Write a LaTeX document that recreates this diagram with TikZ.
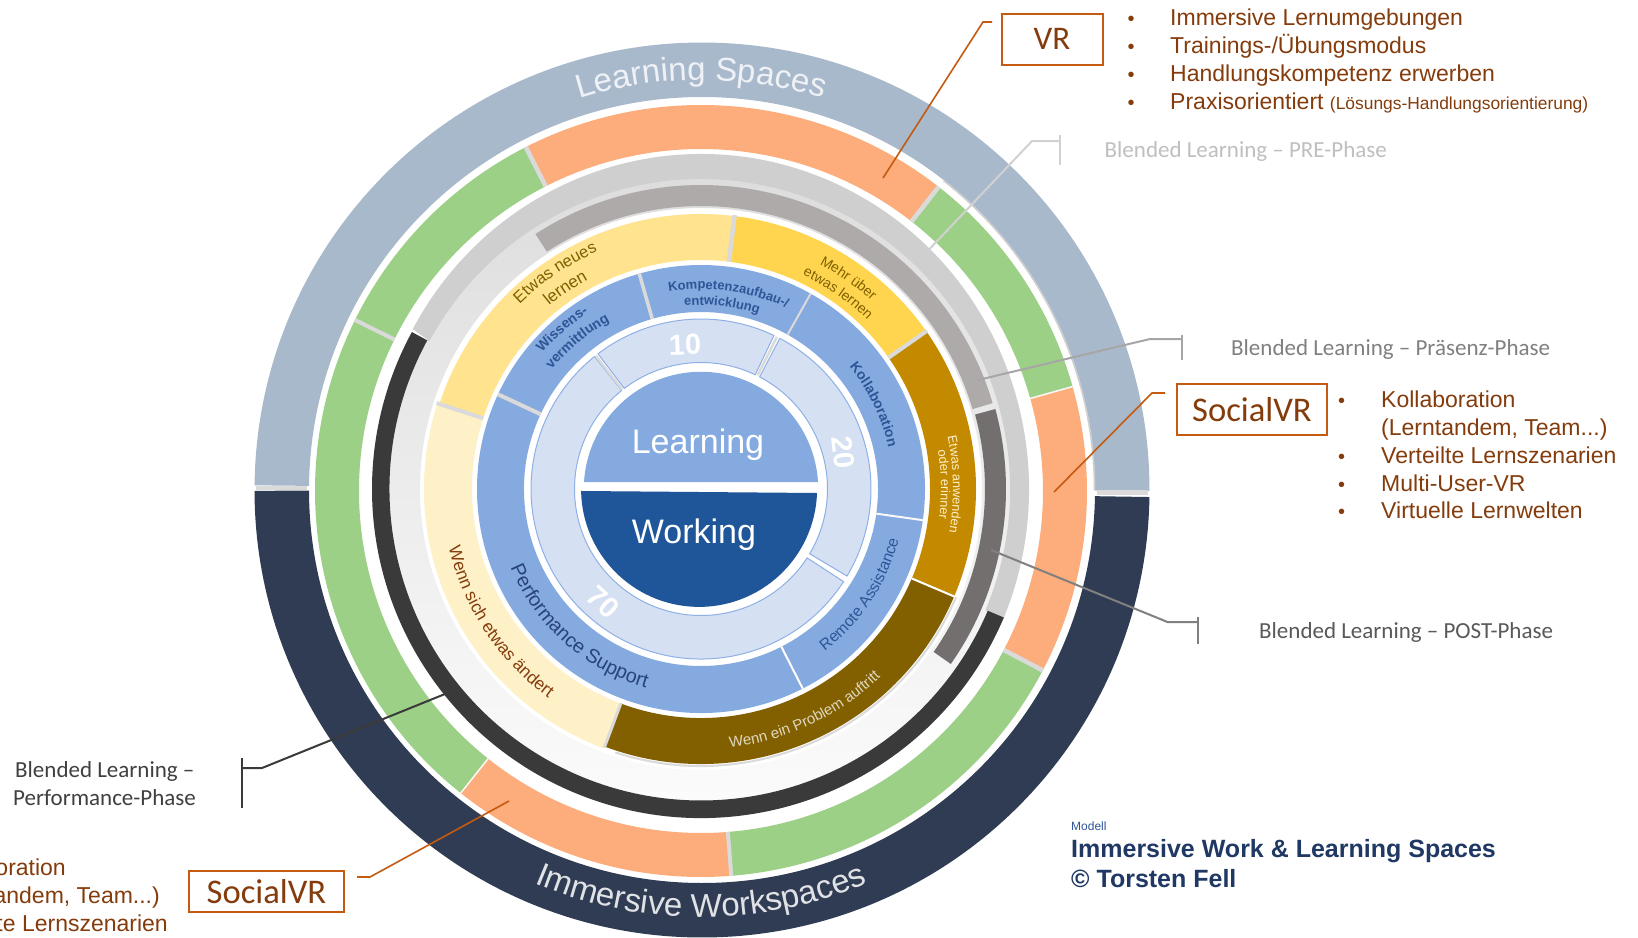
\documentclass[tikz,border=0pt]{standalone}
\usepackage{fontspec}
\setmainfont{Liberation Sans}
\newfontfamily\calib{Carlito}
\usetikzlibrary{decorations.text}
\definecolor{cBlueG}{HTML}{A9B9CC}
\definecolor{cNavy}{HTML}{2F3C53}
\definecolor{cGreen}{HTML}{9DD087}
\definecolor{cOrange}{HTML}{FCAD7B}
\definecolor{cGrayL}{HTML}{CFCFCF}
\definecolor{cTaupe}{HTML}{AFAAAA}
\definecolor{cTaupeD}{HTML}{736F6F}
\definecolor{cDark}{HTML}{3A3A3A}
\definecolor{cYel}{HTML}{FFE38F}
\definecolor{cYelD}{HTML}{FFD54F}
\definecolor{cGold}{HTML}{C38A00}
\definecolor{cBrown}{HTML}{826000}
\definecolor{cCream}{HTML}{FEF0C7}
\definecolor{cBlue}{HTML}{85AAE0}
\definecolor{cBlueP}{HTML}{D5E0F2}
\definecolor{cBlueD}{HTML}{1F5599}
\definecolor{cLine}{HTML}{8FB0E6}
\definecolor{cSep}{HTML}{DADADA}
\definecolor{cCall}{HTML}{C55A11}
\definecolor{cTxt}{HTML}{843C0C}
\definecolor{cModel}{HTML}{1F3864}
\definecolor{cKomp}{HTML}{2F5597}
\definecolor{cPerf}{HTML}{264478}
\definecolor{cOlive}{HTML}{7F6000}
\definecolor{cShadeT}{HTML}{DDDDDD}
\definecolor{cShadeB}{HTML}{FBFBFB}
\newcommand{\ringseg}[5]{\fill[#5] (#3:#1) arc[start angle=#3,end angle=#4,radius=#1] -- (#4:#2) arc[start angle=#4,end angle=#3,radius=#2] -- cycle;}
\newcommand{\ringsep}[5]{\draw[#4,line width=#5pt] (#3:#1) -- (#3:#2);}
\newcommand{\arctext}[6]{\path[decorate,decoration={text along path,text align=center,text={|\fontsize{#4}{#4}\selectfont\color{#5}|#6}}] (#2:#1) arc[start angle=#2,end angle=#3,radius=#1];}
\newcommand{\arctextb}[6]{\path[decorate,decoration={text along path,text align=center,text={|\fontsize{#4}{#4}\selectfont\bfseries\color{#5}|#6}}] (#2:#1) arc[start angle=#2,end angle=#3,radius=#1];}
\tikzset{
  listtxt/.style={anchor=base west,inner sep=0pt,text=cTxt,font=\fontsize{23}{23}\selectfont},
  listbul/.style={anchor=base,inner sep=0pt,text=cTxt,font=\fontsize{20}{20}\selectfont},
  listend/.style={anchor=base east,inner sep=0pt,text=cTxt,font=\fontsize{23}{23}\selectfont},
  callbox/.style={draw=cCall,line width=2pt,fill=white,inner sep=0pt,text=cTxt,font=\calib\fontsize{34.6}{34.6}\selectfont},
  callline/.style={draw=cCall,line width=1.6pt},
  blendtxt/.style={anchor=base west,inner sep=0pt,font=\calib\fontsize{23}{23}\selectfont},
  modeltxt/.style={anchor=base west,inner sep=0pt,text=cModel,font=\bfseries\fontsize{25}{25}\selectfont},
  centertxt/.style={inner sep=0pt,text=white,font=\fontsize{34}{34}\selectfont,anchor=base},
  numtxt/.style={inner sep=0pt,text=white,font=\bfseries\fontsize{29}{29}\selectfont}
}
\begin{document}
\begin{tikzpicture}[x=1pt,y=-1pt]
\useasboundingbox (0,0) rectangle (1638,937);
\fill[white] (0,0) rectangle (1638,937);
\begin{scope}[shift={(701,489)},y=1pt]
  % outer ring
  \begin{scope}[shift={(1,-1)}]
    \ringseg{447.5}{393}{179.4}{-0.1}{cBlueG}
    \ringseg{447.5}{393}{180.1}{359.1}{cNavy}
    \draw[cGrayL,line width=1.6pt] (52:392.5) arc[start angle=52,end angle=0,radius=392.5];
    \fill[cSep] (-446,3.6) rectangle (-395,0.3);
    \fill[cSep] (395,0.2) rectangle (446,-5);
  \end{scope}
  % green / orange ring
  \begin{scope}[shift={(0,-2)}]
    \ringseg{386}{342}{117}{52}{cOrange}
    \ringseg{386}{342}{52}{15.7}{cGreen}
    \ringseg{386}{342}{15.7}{-27.7}{cOrange}
    \ringseg{386}{342}{-27.7}{-85.5}{cGreen}
    \ringseg{386}{342}{-85.5}{-128.5}{cOrange}
    \ringseg{386}{342}{-128.5}{-206.3}{cGreen}
    \ringseg{386}{342}{153.7}{117}{cGreen}
    \ringsep{342}{386}{117}{cSep}{4.5}
    \ringsep{342}{386}{52}{cSep}{4.5}
    \ringsep{342}{386}{153.7}{cSep}{4}
    \ringsep{342}{386}{15.7}{white!85!cSep}{1.5}
    \ringsep{342}{386}{-27.7}{cSep}{4.5}
    \ringsep{342}{386}{-85.5}{cSep}{4}
    \ringsep{342}{386}{-128.5}{white!85!cSep}{1.5}
  \end{scope}
  % phases background
  \shade[top color=cShadeT,bottom color=cShadeB,even odd rule] (0,0) circle[radius=312] (0,0) circle[radius=281];
  \fill[cGrayL] ({328*cos(151.5)},{335*sin(151.5)}) arc[start angle=151.5,end angle=-23,x radius=328,y radius=335] -- ({309*cos(-23)},{310*sin(-23)}) arc[start angle=-23,end angle=151.5,x radius=309,y radius=310] -- cycle;
  \ringseg{329}{311.5}{-23}{-208.5}{cDark}
  \ringseg{304}{283}{123}{16.4}{cTaupe}
  \ringseg{305}{284}{15.2}{-35}{cTaupeD}
  % yellow ring
  \draw[cSep,line width=2pt] (-23:277) arc[start angle=-23,end angle=-108,radius=277];
  \ringseg{275}{229}{162}{83}{cYel}
  \ringseg{275}{229}{83}{35}{cYelD}
  \ringseg{275}{229}{35}{-23}{cGold}
  \ringseg{275}{229}{-23}{-110.5}{cBrown}
  \ringseg{277}{229}{-110.5}{-198}{cCream}
  \ringsep{229}{276}{83}{cSep}{4.5}
  \ringsep{229}{276}{35}{cSep}{4}
  \ringsep{229}{276}{-23}{white}{2}
  \ringsep{229}{276}{-110.5}{cSep}{3}
  \ringsep{229}{278}{162}{cSep}{4}
  % blue ring
  \fill[white] (0,0) circle[radius=227];
  \ringseg{224}{177}{155}{106}{cBlue}
  \ringseg{224}{177}{106}{60.7}{cBlue}
  \ringseg{224}{177}{60.7}{-8}{cBlue}
  \ringseg{224}{177}{-8}{-63}{cBlue}
  \ringseg{224}{177}{-63}{-205}{cBlue}
  \ringsep{177}{224}{155}{cSep}{4}
  \ringsep{177}{224}{106}{cSep}{3.5}
  \ringsep{177}{224}{60.7}{cSep}{2}
  \ringsep{177}{224}{-8}{white!80!cSep}{2}
  \ringsep{177}{224}{-63}{white}{2}
  % pale ring
  \fill[white] (0,0) circle[radius=176];
  \filldraw[fill=cBlueP,draw=cLine,line width=1pt] (127.3:170) arc[start angle=127.3,end angle=64.6,radius=170] -- (64.6:126.5) arc[start angle=64.6,end angle=127.3,radius=126.5] -- cycle;
  \filldraw[fill=cBlueP,draw=cLine,line width=1pt] (62.4:170) arc[start angle=62.4,end angle=-30.8,radius=170] -- (-30.8:126.5) arc[start angle=-30.8,end angle=62.4,radius=126.5] -- cycle;
  \filldraw[fill=cBlueP,draw=cLine,line width=1pt] (-33:170) arc[start angle=-33,end angle=-231.2,radius=170] -- (-231.2:126.5) arc[start angle=-231.2,end angle=-33,radius=126.5] -- cycle;
  \ringsep{127}{170}{128.3}{cSep}{2.5}
  \ringsep{127}{170}{63.5}{cSep}{2.5}
  \ringsep{127}{170}{-32}{white}{1.5}
  % centre
  \fill[white] (0,0) circle[radius=123];
  \fill[cBlue] (-117,7) -- (117,7) arc[start angle=3.4,end angle=176.6,radius=117.2] -- cycle;
  \fill[cBlueD] (-118.5,-2) -- (116,-4) arc[start angle=-2,end angle=-179,radius=118] -- cycle;
  % arc labels
  \arctext{409}{140}{40}{33}{white!80!cBlueG}{Learning Spaces}
  \arctext{428}{-140}{-40}{33}{white!85!cNavy}{Immersive Workspaces}
  \arctext{259}{164}{84}{16.5}{cOlive}{Etwas neues}
  \arctext{238}{164}{84}{17}{cOlive}{lernen}
  \arctext{254}{95}{15}{14}{cOlive}{Mehr über}
  \arctext{237}{95}{15}{14}{cOlive}{etwas lernen}
  \arctext{252}{41}{-39}{12.7}{cCream}{Etwas anwenden}
  \arctext{240}{41}{-39}{12.7}{cCream}{oder erinner}
  \arctext{260}{-110}{-20}{15}{white!75!cBrown}{Wenn ein Problem auftritt}
  \arctext{259}{-195}{-98}{17.3}{cTxt}{Wenn sich etwas ändert}
  \arctextb{200}{122}{42}{13}{cKomp}{Kompetenzaufbau-/}
  \arctextb{184}{123.5}{43.5}{13}{cKomp}{entwicklung}
  \arctextb{209}{171}{91}{14}{cKomp}{Wissens-}
  \arctextb{191}{170}{90}{14}{cKomp}{vermittlung}
  \arctextb{192}{66}{-14}{14}{cKomp}{Kollaboration}
  \arctext{204}{-73}{6}{15.8}{cKomp}{Remote Assistance}
  \arctext{206}{-176.5}{-86.5}{19.7}{cPerf}{Performance Support}
\end{scope}
% centre labels
\node[centertxt] (learning) at (698,453) {Learning};
\node[centertxt] (working) at (694,543) {Working};
\node[numtxt,rotate=2] (n10) at (685,345) {10};
\node[numtxt,rotate=-84] (n20) at (843,452) {20};
\node[numtxt,rotate=-43] (n70) at (603,602) {70};
% VR callout
\node[callbox,minimum width=101pt,minimum height=50.5pt,anchor=north west,font=\calib\fontsize{33}{33}\selectfont] (vr) at (1000.5,13) {VR};
\coordinate (vrA) at (992,22);
\coordinate (vrB) at (983,22);
\coordinate (vrC) at (883,178);
\draw[callline] (vrA) -- (vrB) -- (vrC);
\foreach \nm/\yy in {a/25,b/53.7,c/81,d/109.5}{\node[listbul] (bv\nm) at (1131,\yy) {•};}
\node[listtxt] (v1) at (1170,25) {Immersive Lernumgebungen};
\node[listtxt] (v2) at (1170,53.7) {Trainings-/Übungsmodus};
\node[listtxt] (v3) at (1170,81) {Handlungskompetenz erwerben};
\node[listtxt] (v4) at (1170,109.5) {Praxisorientiert {\fontsize{17.4}{17.4}\selectfont (Lösungs-Handlungsorientierung)}};
% SocialVR right
\node[callbox,minimum width=150pt,minimum height=51pt,anchor=north west] (svr) at (1176,383) {SocialVR};
\coordinate (srA) at (1165,393);
\coordinate (srB) at (1152,393);
\coordinate (srC) at (1054,492);
\draw[callline] (srA) -- (srB) -- (srC);
\foreach \nm/\yy in {a/407,b/463,c/491,d/518}{\node[listbul] (bs\nm) at (1341.5,\yy) {•};}
\node[listtxt] (s1) at (1381,407) {Kollaboration};
\node[listtxt] (s2) at (1381,435) {(Lerntandem, Team...)};
\node[listtxt] (s3) at (1381,463) {Verteilte Lernszenarien};
\node[listtxt] (s4) at (1381,491) {Multi-User-VR};
\node[listtxt] (s5) at (1381,518) {Virtuelle Lernwelten};
% SocialVR bottom
\node[callbox,minimum width=155pt,minimum height=41pt,anchor=north west] (svb) at (188,870) {SocialVR};
\coordinate (sbA) at (357,877);
\coordinate (sbB) at (370,877);
\coordinate (sbC) at (509,801);
\draw[callline] (sbA) -- (sbB) -- (sbC);
\node[listend] (b1) at (66,875) {oration};
\node[listend] (b2) at (160,903) {andem, Team...)};
\node[listend] (b3) at (168,931) {te Lernszenarien};
% Blended labels
\node[blendtxt,text=gray!50] (pre) at (1104.5,157) {Blended Learning – PRE-Phase};
\coordinate (preT) at (1059.5,135); \coordinate (preU) at (1059.5,165);
\coordinate (preH) at (1059.5,141); \coordinate (preK) at (1032,141); \coordinate (preE) at (921,258);
\draw[line width=2pt,draw=black!18] (preT) -- (preU);
\draw[line width=2pt,draw=black!18] (preH) -- (preK) -- (preE);
\node[blendtxt,text=black!50] (pra) at (1231,355) {Blended Learning – Präsenz-Phase};
\coordinate (praT) at (1181.5,335); \coordinate (praU) at (1181.5,360);
\coordinate (praH) at (1181.5,339); \coordinate (praK) at (1150,339); \coordinate (praE) at (978,380);
\draw[line width=2pt,draw=black!35] (praT) -- (praU);
\draw[line width=2pt,draw=black!35] (praH) -- (praK) -- (praE);
\node[blendtxt,text=black!65] (post) at (1259,638) {Blended Learning – POST-Phase};
\coordinate (posT) at (1198,617); \coordinate (posU) at (1198,644);
\coordinate (posH) at (1198,622); \coordinate (posK) at (1167.5,622); \coordinate (posE) at (991,550);
\draw[line width=2pt,draw=black!50] (posT) -- (posU);
\draw[line width=2pt,draw=black!50] (posH) -- (posK) -- (posE);
\node[blendtxt,text=black!75] (perf1) at (15,777) {Blended Learning –};
\node[blendtxt,text=black!75] (perf2) at (13,805) {Performance-Phase};
\coordinate (perT) at (241.7,758); \coordinate (perU) at (241.7,808);
\coordinate (perH) at (241.7,768); \coordinate (perK) at (262,768); \coordinate (perE) at (445,694);
\draw[line width=2pt,draw=cDark] (perT) -- (perU);
\draw[line width=2pt,draw=cDark] (perH) -- (perK) -- (perE);
% model credit
\node[anchor=base west,inner sep=0pt,text=cKomp,font=\fontsize{12}{12}\selectfont] (m0) at (1071,830) {Modell};
\node[modeltxt] (m1) at (1071,857.8) {Immersive Work \& Learning Spaces};
\node[modeltxt] (m2) at (1071,887.8) {© Torsten Fell};
\end{tikzpicture}
\end{document}
